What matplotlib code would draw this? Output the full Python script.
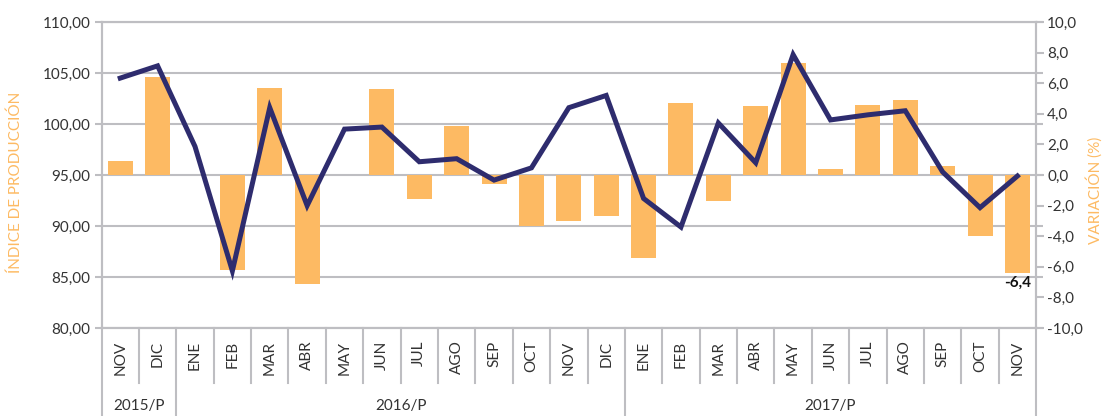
import matplotlib
matplotlib.use('Agg')
import matplotlib.pyplot as plt
import matplotlib.transforms as mtransforms
from matplotlib.ticker import FuncFormatter, MultipleLocator

plt.rcParams['font.family'] = ['Lato', 'DejaVu Sans']

meses = ['NOV', 'DIC', 'ENE', 'FEB', 'MAR', 'ABR', 'MAY', 'JUN', 'JUL', 'AGO',
         'SEP', 'OCT', 'NOV', 'DIC', 'ENE', 'FEB', 'MAR', 'ABR', 'MAY', 'JUN',
         'JUL', 'AGO', 'SEP', 'OCT', 'NOV']
anios = ['2015/P', '2016/P', '2017/P']
meses_por_anio = [2, 12, 11]

# variación (%) -> barras, eje derecho
variacion = [0.9, 6.4, 0.0, -6.2, 5.7, -7.1, 0.0, 5.6, -1.6, 3.2,
             -0.6, -3.3, -3.0, -2.7, -5.4, 4.7, -1.7, 4.5, 7.3, 0.4,
             4.6, 4.9, 0.6, -4.0, -6.4]
# índice de producción -> línea, eje izquierdo
indice = [104.5, 105.7, 97.8, 85.6, 101.6, 92.0, 99.5, 99.7, 96.3, 96.6,
          94.5, 95.7, 101.6, 102.8, 92.7, 89.9, 100.1, 96.2, 106.8, 100.4,
          100.9, 101.3, 95.3, 91.8, 94.9]

naranja = '#FDBA63'
azul = '#2E2C6E'
gris = '#BEBEC2'
texto = '#333333'

fig = plt.figure(figsize=(11.06, 4.16), dpi=100)
ax = fig.add_axes([0.0918, 0.2115, 0.845, 0.7356])
ax2 = ax.twinx()
ax3 = ax.twinx()

x = list(range(len(meses)))

# eje izquierdo
ax.set_xlim(-0.5, len(meses) - 0.5)
ax.set_ylim(80, 110)
ax.yaxis.set_major_locator(MultipleLocator(5))
ax.yaxis.set_major_formatter(FuncFormatter(lambda v, p: f'{v:.2f}'.replace('.', ',')))
ax.grid(axis='y', color=gris, linewidth=1.5)
ax.set_axisbelow(True)
ax.tick_params(axis='y', length=5, width=1.5, color=gris, pad=3, labelsize=11,
               labelcolor=texto, right=True, labelright=False)
ax.set_xticks(x)
ax.set_xticklabels(meses, rotation=90, va='top', ha='center')
ax.tick_params(axis='x', length=0, pad=9, labelsize=11, labelcolor=texto)
ax.set_ylabel('ÍNDICE DE PRODUCCIÓN', color=naranja, fontsize=11)
ax.yaxis.set_label_coords(-0.084, 0.475)

# eje derecho con barras
ax2.bar(x, variacion, width=0.67, color=naranja, zorder=2)
ax2.set_ylim(-10, 10)
ax2.yaxis.set_major_locator(MultipleLocator(2))
ax2.yaxis.set_major_formatter(FuncFormatter(lambda v, p: f'{v:.1f}'.replace('.', ',')))
ax2.tick_params(axis='y', length=6, width=1.5, color=gris, pad=2, labelsize=11,
                labelcolor=texto)
ax2.set_ylabel('VARIACIÓN (%)', color=naranja, fontsize=11)
ax2.yaxis.set_label_coords(1.053, 0.45)
ax2.annotate(f'{variacion[-1]:.1f}'.replace('.', ','), (x[-1], variacion[-1]),
             xytext=(0, -2), textcoords='offset points', ha='center', va='top',
             fontsize=11, fontweight='bold', color='#111111')

# línea sobre las barras
ax3.set_ylim(80, 110)
ax3.plot(x, indice, color=azul, linewidth=3.6, solid_joinstyle='miter')
ax3.axis('off')

for a in (ax, ax2):
    for s in a.spines.values():
        s.set_color(gris)
        s.set_linewidth(1.5)

# separadores del eje de categorías
trans = mtransforms.blended_transform_factory(ax.transData, ax.transAxes)
limites = [-0.5]
for n in meses_por_anio:
    limites.append(limites[-1] + n)
for i in range(len(meses) + 1):
    xi = i - 0.5
    bajo = -0.29 if xi in limites else -0.18
    ax.plot([xi, xi], [0, bajo], transform=trans, color=gris, linewidth=1.5,
            clip_on=False)
for k, anio in enumerate(anios):
    centro = (limites[k] + limites[k + 1]) / 2
    ax.text(centro, -0.254, anio, transform=trans, ha='center', va='center',
            fontsize=11, color=texto)

fig.savefig('out.png', dpi=100)
